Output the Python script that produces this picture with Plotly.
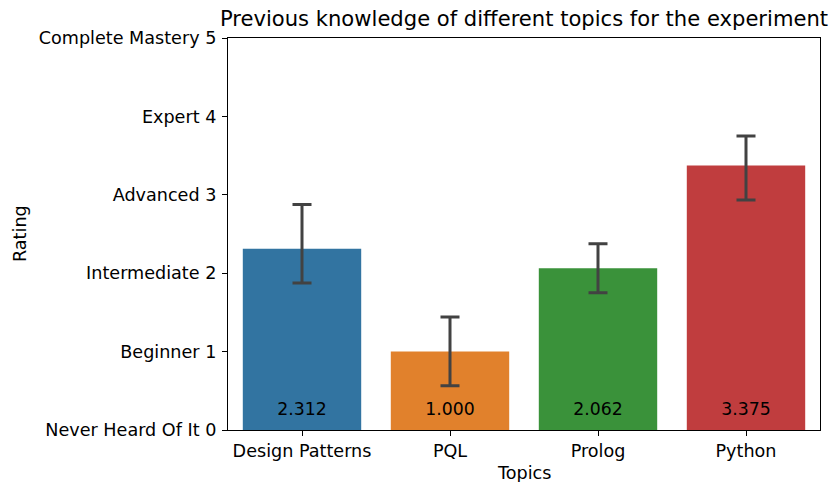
import plotly.graph_objects as go

topics = ["Design Patterns", "PQL", "Prolog", "Python"]
means = [2.312, 1.000, 2.062, 3.375]
ci_upper = [2.875, 1.442, 2.375, 3.749]
ci_lower = [1.874, 0.564, 1.752, 2.935]
colors = ["#3274a1", "#e1812c", "#3a923a", "#c03d3e"]
tick_vals = [0, 1, 2, 3, 4, 5]
tick_text = ["Never Heard Of It 0", "Beginner 1", "Intermediate 2", "Advanced 3", "Expert 4", "Complete Mastery 5"]
label_y = 0.25

plus = [u - m for u, m in zip(ci_upper, means)]
minus = [m - l for m, l in zip(means, ci_lower)]

FONT = "DejaVu Sans"
FS = 17.6

fig = go.Figure()
fig.add_trace(go.Bar(
    x=topics, y=means, marker_color=colors, marker_line_width=0, width=0.8,
    error_y=dict(type="data", symmetric=False, array=plus, arrayminus=minus,
                 color="#424242", thickness=3, width=9.5),
    showlegend=False, hoverinfo="skip",
))
fig.add_trace(go.Scatter(
    x=topics, y=[label_y] * len(topics), mode="text",
    text=[f"{m:.3f}" for m in means], textposition="middle center",
    textfont=dict(family=FONT, size=17.3, color="black"),
    showlegend=False, hoverinfo="skip",
))

axis_common = dict(showline=True, linecolor="black", linewidth=1.2, mirror=True,
                   ticks="outside", ticklen=5, tickcolor="black", tickwidth=1.2,
                   showgrid=False, zeroline=False, automargin=False,
                   tickfont=dict(family=FONT, size=FS, color="black"))
L, R, T, B = 228, 12, 38, 52
fig.update_layout(
    width=832, height=482,
    margin=dict(l=L, r=R, t=T, b=B),
    plot_bgcolor="white", paper_bgcolor="white",
    title=dict(text="Previous knowledge of different topics for the experiment",
               x=(L + 832 - R) / 2 / 832, xanchor="center", y=1 - 19 / 482, yanchor="middle",
               font=dict(family=FONT, size=21.1, color="black")),
    xaxis=dict(**axis_common, range=[-0.5, 3.5], ticklabelstandoff=0),
    yaxis=dict(**axis_common, range=[0, 5], tickvals=tick_vals, ticktext=tick_text,
               ticklabelstandoff=2),
    bargap=0.2,
    annotations=[
        dict(text="Topics", xref="paper", yref="paper", x=0.5, y=-(473 - 430) / 392,
             xanchor="center", yanchor="middle", showarrow=False,
             font=dict(family=FONT, size=FS, color="black")),
        dict(text="Rating", xref="paper", yref="paper", x=-(228 - 20) / 592, y=0.5,
             xanchor="center", yanchor="middle", textangle=-90, showarrow=False,
             font=dict(family=FONT, size=FS, color="black")),
    ],
)
fig.write_html("out.html", config={"displayModeBar": False},
               post_script="document.body.style.margin='0';document.body.style.overflow='hidden';")
